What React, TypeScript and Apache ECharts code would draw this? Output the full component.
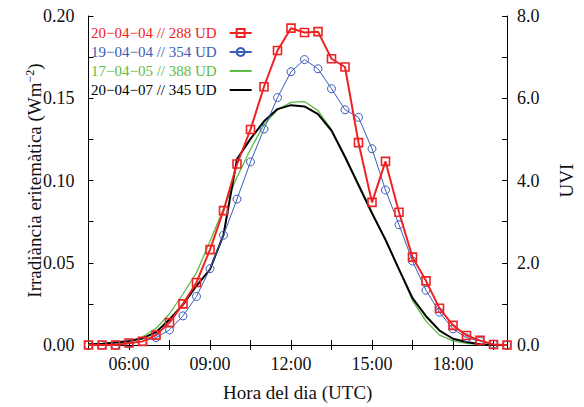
import React, { useEffect, useRef } from 'react';
import * as echarts from 'echarts';

const hours = [4.5, 5, 5.5, 6, 6.5, 7, 7.5, 8, 8.5, 9, 9.5, 10, 10.5, 11, 11.5, 12, 12.5, 13, 13.5, 14, 14.5, 15, 15.5, 16, 16.5, 17, 17.5, 18, 18.5, 19, 19.5, 20];

const red = [0, 0, 0, 0.0012, 0.0022, 0.006, 0.0136, 0.025, 0.038, 0.058, 0.0817, 0.11, 0.131, 0.157, 0.179, 0.1926, 0.19, 0.1905, 0.174, 0.169, 0.123, 0.0867, 0.1116, 0.0807, 0.0534, 0.039, 0.0223, 0.0119, 0.0058, 0.0028, 0.0003, 0];
const blue = [0, 0, 0, 0.0008, 0.0022, 0.0045, 0.0092, 0.0177, 0.0295, 0.0464, 0.0667, 0.0887, 0.1113, 0.1313, 0.1504, 0.1661, 0.1735, 0.1679, 0.1558, 0.143, 0.1384, 0.1193, 0.0942, 0.0731, 0.051, 0.0333, 0.0199, 0.0098, 0.0044, 0.0024, 0.0005, 0];
const green = [0, 0, 0.0005, 0.002, 0.005, 0.01, 0.019, 0.031, 0.044, 0.063, 0.083, 0.102, 0.119, 0.134, 0.143, 0.1475, 0.148, 0.1425, 0.131, 0.115, 0.098, 0.081, 0.064, 0.046, 0.027, 0.0145, 0.006, 0.0025, 0.001, 0.0003, 0, 0];
const black = [0.0005, 0.0008, 0.0015, 0.0025, 0.004, 0.0078, 0.0155, 0.0245, 0.036, 0.046, 0.067, 0.113, 0.1253, 0.136, 0.1434, 0.1458, 0.145, 0.1404, 0.1303, 0.1143, 0.0972, 0.08, 0.064, 0.046, 0.0285, 0.0175, 0.0088, 0.0038, 0.0018, 0.0005, 0, 0];

const seriesNames = ['20−04−04 // 288 UD', '19−04−04 // 354 UD', '17−04−05 // 388 UD', '20−04−07 // 345 UD'];
const seriesColors = ['#ee2222', '#3a5cb8', '#5fbb44', '#000000'];

const xTitle = 'Hora del dia (UTC)';
const yTitle = 'Irradiància eritemàtica (Wm';
const yTitleSup = '−2';
const y2Title = 'UVI';

const FONT = 'Liberation Serif';

const zip = (ys: number[]) => hours.map((h, i) => [h, ys[i]]);

export default function App() {
  const ref = useRef<HTMLDivElement>(null);
  useEffect(() => {
    const chart = echarts.init(ref.current!, null, { renderer: 'svg' });
    const axisLineStyle = { color: '#000', width: 1 };
    const labelStyle = { fontFamily: FONT, fontSize: 18, color: '#111' };
    const hidden = { color: 'rgba(0,0,0,0)', borderColor: 'rgba(0,0,0,0)', borderWidth: 0 };
    chart.setOption({
      animation: false,
      backgroundColor: '#fff',
      grid: { left: 88.5, right: 59.5, top: 16, bottom: 59, containLabel: false },
      legend: {
        orient: 'vertical',
        left: 86,
        top: 20.5,
        align: 'right',
        itemGap: 4,
        itemWidth: 22,
        itemHeight: 10,
        textStyle: { fontFamily: FONT, fontSize: 15, padding: [0, 8, 0, 0] },
        data: seriesNames.map((n, i) => ({
          name: n,
          textStyle: { color: seriesColors[i] },
          ...(i >= 2 ? { itemStyle: hidden } : {}),
        })),
      },
      xAxis: [
        {
          type: 'value', min: 4.5, max: 20, interval: 1.5,
          name: xTitle, nameLocation: 'middle', nameGap: 38, nameMoveOverlap: false,
          nameTextStyle: { fontFamily: FONT, fontSize: 19, color: '#111' },
          axisLine: { show: true, lineStyle: axisLineStyle },
          axisTick: { show: true, inside: true, length: 5, lineStyle: axisLineStyle },
          axisLabel: {
            ...labelStyle, margin: 10,
            formatter: (v: number) => (Math.abs(v % 3) < 1e-6 ? String(v).padStart(2, '0') + ':00' : ''),
          },
          splitLine: { show: false },
        },
        {
          type: 'value', min: 4.5, max: 20, interval: 1.5, position: 'top',
          axisLine: { show: true, lineStyle: axisLineStyle },
          axisTick: { show: true, inside: true, length: 5, lineStyle: axisLineStyle },
          axisLabel: { show: false },
          splitLine: { show: false },
        },
      ],
      yAxis: [
        {
          type: 'value', min: 0, max: 0.2, interval: 0.025,
          name: `{a|${yTitle}}{s|${yTitleSup}}{a|)}`, nameLocation: 'middle', nameGap: 43, nameMoveOverlap: false,
          nameTextStyle: {
            fontFamily: FONT, fontSize: 19, color: '#111',
            rich: {
              a: { fontFamily: FONT, fontSize: 19, color: '#111', lineHeight: 22 },
              s: { fontFamily: FONT, fontSize: 12, color: '#111', verticalAlign: 'top', lineHeight: 22 },
            },
          },
          axisLine: { show: true, lineStyle: axisLineStyle },
          axisTick: { show: true, inside: true, length: 5, lineStyle: axisLineStyle },
          axisLabel: {
            ...labelStyle, margin: 14,
            formatter: (v: number) => (Math.round(v * 1000) % 50 === 0 ? v.toFixed(2) : ''),
          },
          splitLine: { show: false },
        },
        {
          type: 'value', min: 0, max: 8, interval: 1, position: 'right',
          name: y2Title, nameLocation: 'middle', nameGap: 50, nameMoveOverlap: false,
          nameTextStyle: { fontFamily: FONT, fontSize: 19, color: '#111' },
          axisLine: { show: true, lineStyle: axisLineStyle },
          axisTick: { show: true, inside: true, length: 5, lineStyle: axisLineStyle },
          axisLabel: {
            ...labelStyle, margin: 10,
            formatter: (v: number) => (Math.round(v) % 2 === 0 ? v.toFixed(1) : ''),
          },
          splitLine: { show: false },
        },
      ],
      series: [
        {
          name: seriesNames[2], type: 'line', data: zip(green), showSymbol: false, symbol: 'none',
          lineStyle: { color: seriesColors[2], width: 1.3 }, itemStyle: { color: seriesColors[2] }, z: 2,
        },
        {
          name: seriesNames[3], type: 'line', data: zip(black), showSymbol: false, symbol: 'none',
          lineStyle: { color: seriesColors[3], width: 2 }, itemStyle: { color: seriesColors[3] }, z: 3,
        },
        {
          name: seriesNames[1], type: 'line', data: zip(blue), symbol: 'circle', symbolSize: 8,
          lineStyle: { color: seriesColors[1], width: 1 },
          itemStyle: { color: 'rgba(255,255,255,0)', borderColor: seriesColors[1], borderWidth: 1 }, z: 4,
        },
        {
          name: seriesNames[0], type: 'line', data: zip(red), symbol: 'rect', symbolSize: 8,
          lineStyle: { color: seriesColors[0], width: 2 },
          itemStyle: { color: 'rgba(255,255,255,0)', borderColor: seriesColors[0], borderWidth: 1.6 }, z: 5,
        },
      ],
    });
    return () => chart.dispose();
  }, []);
  return <div ref={ref} style={{ position: 'fixed', left: 0, top: 0, width: 584, height: 407 }} />;
}
